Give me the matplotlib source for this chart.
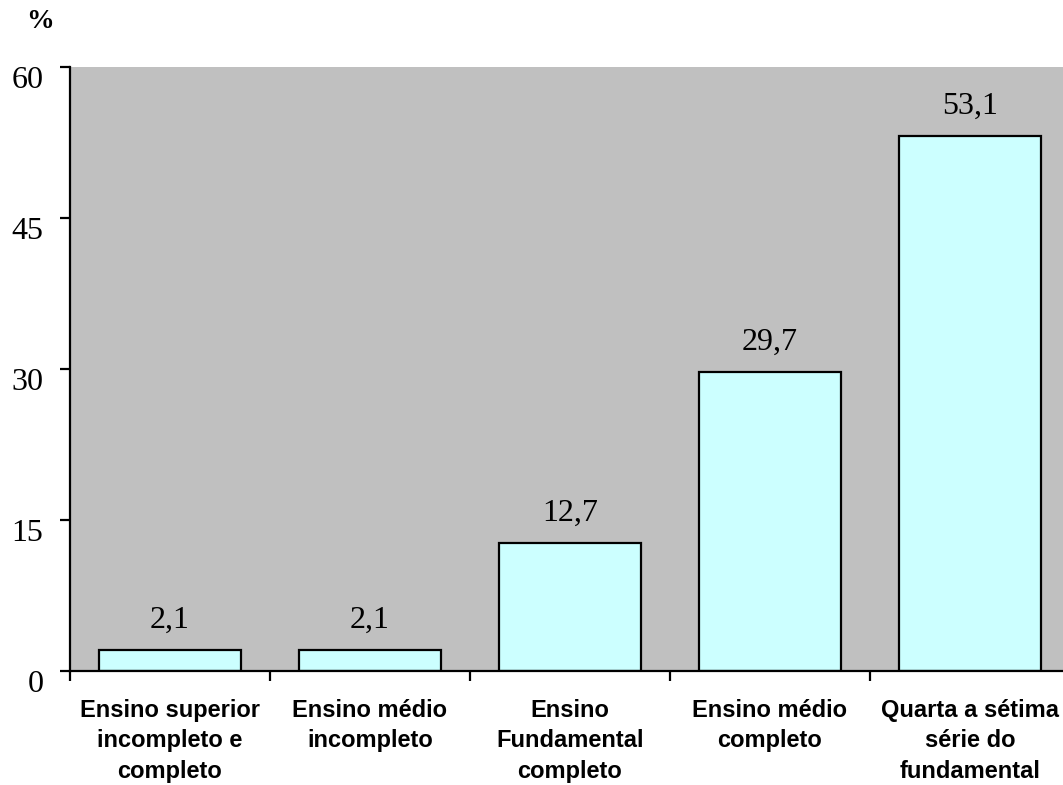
import matplotlib.pyplot as plt
import matplotlib.transforms as mtransforms
import numpy as np

categories = ['Ensino superior\nincompleto e\ncompleto',
              'Ensino médio\nincompleto',
              'Ensino\nFundamental\ncompleto',
              'Ensino médio\ncompleto',
              'Quarta a sétima\nsérie do\nfundamental']
values = [2.1, 2.1, 12.7, 29.7, 53.1]
y_ticks = [0, 15, 30, 45, 60]

serif = 'Liberation Serif'
sans = 'Liberation Sans'

fig = plt.figure(figsize=(10.63, 7.85), dpi=100)
ax = fig.add_axes([70 / 1063, 114 / 785, 1000 / 1063, 604 / 785])
ax.set_facecolor('#C0C0C0')

x = np.arange(len(values))
ax.bar(x, values, width=0.71, color='#CCFFFF', edgecolor='black',
       linewidth=1.6, zorder=2)

for xi, v in zip(x, values):
    ax.annotate(f'{v:.1f}'.replace('.', ','), (xi, v),
                xytext=(0, 16), textcoords='offset points',
                ha='center', va='baseline', fontsize=23, family=serif)

ax.set_xlim(-0.5, 4.5)
ax.set_ylim(0, 60)
ax.set_yticks(y_ticks)
ax.set_yticklabels([str(t) for t in y_ticks], fontsize=23, family=serif)
ax.tick_params(axis='y', direction='out', length=7, width=1.6, pad=12)
# labels sit a little below their tick marks in the original
shift = mtransforms.ScaledTranslation(0, -7 / 72, fig.dpi_scale_trans)
for lbl in ax.get_yticklabels():
    lbl.set_transform(lbl.get_transform() + shift)

ax.set_xticks(x)
ax.set_xticklabels(categories, fontsize=17, family=sans,
                   fontweight='bold', linespacing=1.42)
ax.tick_params(axis='x', which='major', length=0, pad=20)
ax.set_xticks(np.arange(-0.5, 5.0, 1.0), minor=True)
ax.tick_params(axis='x', which='minor', direction='out', length=7, width=1.6)

for side in ['top', 'right']:
    ax.spines[side].set_visible(False)
for side in ['left', 'bottom']:
    ax.spines[side].set_linewidth(1.6)

fig.text(40 / 1063, 1 - 21 / 785, '%', fontsize=20, family=serif,
         fontweight='bold', ha='center', va='center')

fig.savefig('out.png', dpi=100)
